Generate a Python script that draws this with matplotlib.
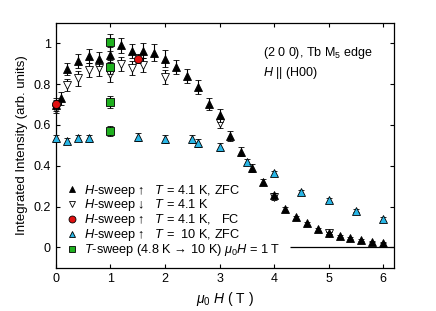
import matplotlib
matplotlib.use("Agg")
import matplotlib.pyplot as plt
from matplotlib.lines import Line2D
import numpy as np

plt.rcParams['font.family'] = ['Liberation Sans', 'DejaVu Sans']
plt.rcParams['mathtext.fontset'] = 'custom'
plt.rcParams['mathtext.rm'] = 'Liberation Sans'
plt.rcParams['mathtext.it'] = 'Liberation Sans:italic'
plt.rcParams['mathtext.bf'] = 'Liberation Sans:bold'

# H-sweep up, T=4.1 K, ZFC
h_up = [0.0, 0.1, 0.2, 0.4, 0.6, 0.8, 1.0, 1.2, 1.4, 1.6, 1.8, 2.0, 2.2, 2.4, 2.6, 2.8, 3.0, 3.2, 3.4, 3.6,
        3.8, 4.0, 4.2, 4.4, 4.6, 4.8, 5.0, 5.2, 5.4, 5.6, 5.8, 6.0]
i_up = [0.70, 0.73, 0.875, 0.915, 0.94, 0.922, 0.945, 0.99, 0.962, 0.965, 0.955, 0.926, 0.885, 0.84, 0.787, 0.703, 0.647, 0.548, 0.47, 0.388,
        0.32, 0.255, 0.19, 0.147, 0.118, 0.088, 0.072, 0.055, 0.047, 0.036, 0.027, 0.023]
e_up = [0.03, 0.03, 0.03, 0.035, 0.035, 0.035, 0.035, 0.035, 0.035, 0.035, 0.04, 0.04, 0.035, 0.035, 0.035, 0.03, 0.03, 0.025, 0.02, 0.02,
        0.015, 0.012, 0.01, 0.008, 0.007, 0.006, 0.005, 0.004, 0.004, 0.004, 0.003, 0.003]

# H-sweep down, T=4.1 K
h_dn = [0.0, 0.2, 0.4, 0.6, 0.8, 1.0, 1.2, 1.4, 1.6, 2.0, 3.0, 4.0, 5.0]
i_dn = [0.68, 0.795, 0.828, 0.869, 0.877, 0.848, 0.9, 0.88, 0.894, 0.836, 0.61, 0.245, 0.072]
e_dn = [0.02, 0.03, 0.035, 0.035, 0.035, 0.035, 0.035, 0.035, 0.035, 0.035, 0.025, 0.012, 0.006]

# H-sweep up, T=4.1 K, FC
h_fc = [0.0, 1.5]
i_fc = [0.703, 0.926]
e_fc = [0.02, 0.02]

# H-sweep up, T=10 K, ZFC
h_10 = [0.0, 0.2, 0.4, 0.6, 1.5, 2.0, 2.5, 2.6, 3.0, 3.5, 4.0, 4.5, 5.0, 5.5, 6.0]
i_10 = [0.534, 0.523, 0.537, 0.534, 0.542, 0.530, 0.532, 0.513, 0.493, 0.418, 0.363, 0.273, 0.232, 0.18, 0.139]
e_10 = [0.015, 0.015, 0.015, 0.015, 0.02, 0.02, 0.02, 0.02, 0.02, 0.015, 0.012, 0.01, 0.01, 0.008, 0.008]

# T-sweep at 1 T
h_ts = [1.0, 1.0, 1.0, 1.0]
i_ts = [1.005, 0.886, 0.712, 0.572]
e_ts = [0.04, 0.035, 0.03, 0.025]

# zero baseline segment (field range, T)
base_h = [4.3, 6.2]

xticks = [0, 1, 2, 3, 4, 5, 6]
yticks = [0, 0.2, 0.4, 0.6, 0.8, 1.0]
ytick_labels = ['0', '0.2', '0.4', '0.6', '0.8', '1']

fig = plt.figure(figsize=(4.36, 3.11), dpi=100)
ax = fig.add_axes([0.128, 0.139, 0.776, 0.787])

ms = 5.8
ekw = dict(ecolor='black', elinewidth=0.8, capsize=2, capthick=0.8, linestyle='none')

ax.hlines(0, base_h[0], base_h[1], color='black', lw=0.9, zorder=1)

series = [
    (h_10, i_10, e_10, '^', '#29b6e6', 3),
    (h_dn, i_dn, e_dn, 'v', 'white', 3),
    (h_up, i_up, e_up, '^', 'black', 4),
    (h_ts, i_ts, e_ts, 's', '#1fb01f', 5),
    (h_fc, i_fc, e_fc, 'o', '#e01010', 5),
]
for hx, iy, ey, mk, fc, z in series:
    cont = ax.errorbar(hx, iy, yerr=ey, marker=mk, ms=ms, mfc=fc, mec='black', mew=0.6, zorder=z, **ekw)
    for art in cont.get_children():
        art.set_clip_on(False)

ax.set_xlim(0, 6.2)
ax.set_ylim(-0.1, 1.1)
ax.set_xticks(xticks)
ax.set_yticks(yticks)
ax.set_yticklabels(ytick_labels)
ax.tick_params(direction='in', top=True, right=True, labelsize=9, length=3, width=0.8)
for s in ax.spines.values():
    s.set_linewidth(0.9)

ax.set_xlabel(r'$\mu_0$ $H$ ( T )', fontsize=10)
ax.set_ylabel('Integrated Intensity (arb. units)', fontsize=9.5)

ax.text(0.612, 0.877, r'(2 0 0), Tb M$_5$ edge', transform=ax.transAxes, fontsize=9, va='center')
ax.text(0.612, 0.796, r'$H$ || (H00)', transform=ax.transAxes, fontsize=9, va='center')

handles = [
    Line2D([], [], marker='^', ls='none', ms=ms - 0.8, mfc='black', mec='black', mew=0.6),
    Line2D([], [], marker='v', ls='none', ms=ms - 0.8, mfc='white', mec='black', mew=0.6),
    Line2D([], [], marker='o', ls='none', ms=ms - 0.8, mfc='#e01010', mec='black', mew=0.6),
    Line2D([], [], marker='^', ls='none', ms=ms - 0.8, mfc='#29b6e6', mec='black', mew=0.6),
    Line2D([], [], marker='s', ls='none', ms=ms - 0.8, mfc='#1fb01f', mec='black', mew=0.6),
]
labels = [
    '$H$-sweep \u2191   $T$ = 4.1 K, ZFC',
    '$H$-sweep \u2193   $T$ = 4.1 K',
    '$H$-sweep \u2191   $T$ = 4.1 K,   FC',
    '$H$-sweep \u2191   $T$ =  10 K, ZFC',
    '$T$-sweep (4.8 K \u2192 10 K) $\\mu_0H$ = 1 T',
]
leg = ax.legend(handles, labels, loc='lower left', bbox_to_anchor=(0.028, 0.04), fontsize=9.2,
                frameon=False, handlelength=1.0, handletextpad=0.5, labelspacing=-0.09,
                borderpad=0.0, borderaxespad=0.0)
leg.set_zorder(6)

fig.savefig('out.png', dpi=100)
